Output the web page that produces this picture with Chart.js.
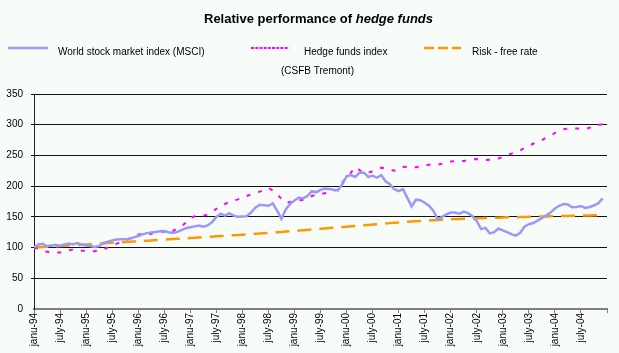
<!DOCTYPE html>
<html>
<head>
<meta charset="utf-8">
<script src="https://cdn.jsdelivr.net/npm/chart.js@4/dist/chart.umd.min.js"></script>
<style>
  html, body { margin: 0; padding: 0; background: #f8fcf9; }
  canvas { display: block; }
</style>
</head>
<body>
<canvas id="perf" width="619" height="353"></canvas>
<script>
// monthly index values, Jan 94 = 100
const seriesNames = ['World stock market index (MSCI)', 'Hedge funds index', 'Risk - free rate'];
const xTickLabels = ['janu-94','july-94','janu-95','july-95','janu-96','july-96','janu-97','july-97',
  'janu-98','july-98','janu-99','july-99','janu-00','july-00','janu-01','july-01','janu-02','july-02',
  'janu-03','july-03','janu-04','july-04',''];

const msci = [
  100, 105, 106, 102, 103.5, 104, 103, 105, 106.5, 105, 107.5, 105,
  103.5, 102.5, 101, 102.5, 107.5, 109.5, 111.5, 113, 113.5, 113.4, 114, 116.5,
  118.8, 121.5, 123.5, 124.5, 125.5, 126.5, 126.9, 125, 123.6, 125.5, 128.5, 131.5,
  133, 134.5, 136, 134, 136, 141, 150, 155, 152, 155.5, 152, 150,
  150.5, 151, 157, 165, 169.6, 169, 168, 172, 160, 147, 162, 171,
  176.6, 181.5, 180, 184, 192, 190, 194, 196, 195.5, 194, 193, 203,
  216, 218, 215, 222, 222, 215, 217, 214, 218, 208, 203, 195,
  192, 195, 181, 167, 178, 177, 173, 168, 160, 146, 150, 154,
  157, 157, 155, 158.5, 156, 151, 143, 130, 132, 123, 125, 131,
  128, 125, 122, 119.5, 124, 134, 138, 140, 144, 148, 152, 157,
  163.5, 168, 171, 170, 165.5, 166, 167.5, 164.5, 166, 168.5, 172, 180
];

const hedge = [
  100, 98, 95.5, 93, 92.5, 92, 92, 93.5, 95.5, 97, 96, 95,
  94.5, 94, 94, 95.5, 97.5, 100, 102.5, 106, 109, 112, 115, 118,
  121.5, 122, 120.5, 122.5, 125, 127, 125.5, 124, 127, 131, 134.5, 141,
  148, 151, 151, 152, 153.5, 158, 163, 168, 171, 174, 176.5, 178.5,
  181, 184, 186.5, 189, 191, 193.5, 197, 193, 187, 179, 173, 174,
  175.5, 177, 178, 181, 184, 186, 187, 188.5, 190, 192, 195, 206,
  214, 222, 231, 226, 221, 222, 224, 227, 230, 229, 227, 225,
  228.5, 231, 231.5, 231, 230.7, 232, 233.5, 235, 235, 235, 236.5, 238,
  240, 240.5, 240.5, 241, 242, 243.5, 244, 243.5, 242.5, 243, 244, 245,
  247.5, 250.5, 253, 255, 258, 262, 266, 269, 272, 275, 279, 282,
  286.5, 290.5, 292.5, 293.5, 294, 294, 293.5, 293, 295, 297.5, 299.5, 301
];

const riskFree = [
  100, 100.4, 100.8, 101.3, 101.7, 102.1, 102.5, 102.9, 103.3, 103.8, 104.2, 104.6,
  105, 105.5, 105.9, 106.4, 106.8, 107.3, 107.7, 108.2, 108.7, 109.1, 109.6, 110,
  110.5, 110.9, 111.3, 111.7, 112.2, 112.6, 113, 113.4, 113.8, 114.3, 114.7, 115.1,
  115.5, 116, 116.4, 116.9, 117.3, 117.8, 118.3, 118.7, 119.2, 119.6, 120.1, 120.5,
  121, 121.5, 122, 122.5, 123, 123.5, 124, 124.5, 125, 125.5, 126, 126.5,
  127, 127.6, 128.2, 128.8, 129.3, 129.9, 130.5, 131.1, 131.7, 132.3, 132.8, 133.4,
  134, 134.6, 135.2, 135.8, 136.3, 136.9, 137.5, 138.1, 138.7, 139.3, 139.8, 140.4,
  141, 141.5, 142, 142.5, 142.9, 143.3, 143.7, 144.1, 144.5, 144.9, 145.3, 145.7,
  146.1, 146.4, 146.7, 147, 147.3, 147.5, 147.7, 147.9, 148.1, 148.3, 148.5, 148.7,
  149, 149.2, 149.3, 149.5, 149.7, 149.9, 150, 150.2, 150.4, 150.5, 150.7, 150.9,
  151, 151.2, 151.4, 151.5, 151.7, 151.9, 152, 152.2, 152.4, 152.6, 152.8, 153
];

const FONT = '"Liberation Sans", Arial, sans-serif';
const colors = ['#9a9af5', '#ff00ff', '#ff9900'];

const toXY = arr => arr.map((v, i) => ({ x: i, y: v }));

// title + the odd three-column legend, drawn by hand
const header = {
  id: 'header',
  beforeDraw(chart) {
    const c = chart.ctx;
    c.save();
    c.fillStyle = '#f8fcf9';
    c.fillRect(0, 0, chart.width, chart.height);
    c.restore();
  },
  afterDraw(chart) {
    const c = chart.ctx;
    c.save();
    c.fillStyle = '#000';
    c.textBaseline = 'alphabetic';

    const a = 'Relative performance of ', b = 'hedge funds';
    c.font = 'bold 13px ' + FONT;
    const wa = c.measureText(a).width;
    c.font = 'italic bold 13px ' + FONT;
    const wb = c.measureText(b).width;
    let x = 318.5 - (wa + wb) / 2;
    c.font = 'bold 13px ' + FONT;
    c.fillText(a, x, 23);
    c.font = 'italic bold 13px ' + FONT;
    c.fillText(b, x + wa, 23);

    const samples = [[8, 48, [], 2.5], [251, 289, [3, 1.2], 2], [424, 461, [10, 4], 2.5]];
    const textX = [58, 304, 472];
    samples.forEach((s, i) => {
      c.beginPath();
      c.strokeStyle = colors[i];
      c.lineWidth = s[3];
      c.setLineDash(s[2]);
      c.moveTo(s[0], 48);
      c.lineTo(s[1], 48);
      c.stroke();
    });
    c.setLineDash([]);
    c.font = '10px ' + FONT;
    seriesNames.forEach((n, i) => c.fillText(n, textX[i], 54.5));
    c.fillText('(CSFB Tremont)', 281, 74);
    c.restore();
  }
};

new Chart(document.getElementById('perf'), {
  type: 'line',
  data: {
    datasets: [
      { label: seriesNames[0], data: toXY(msci), borderColor: colors[0], borderWidth: 2.5 },
      { label: seriesNames[1], data: toXY(hedge), borderColor: colors[1], borderWidth: 2, borderDash: [4, 8] },
      { label: seriesNames[2], data: toXY(riskFree), borderColor: colors[2], borderWidth: 2.5, borderDash: [14, 8] }
    ]
  },
  options: {
    responsive: false,
    animation: false,
    devicePixelRatio: 1,
    layout: { padding: { top: 94, right: 3, left: 0, bottom: 0 } },
    elements: { point: { radius: 0 }, line: { tension: 0 } },
    plugins: { legend: { display: false }, tooltip: { enabled: false } },
    scales: {
      x: {
        type: 'linear',
        min: 0,
        max: 132,
        afterFit: s => { s.height = 44; },
        grid: { drawOnChartArea: false, tickLength: 4, color: '#808080' },
        border: { color: '#808080', width: 2 },
        ticks: {
          stepSize: 6,
          autoSkip: false,
          minRotation: 90,
          maxRotation: 90,
          padding: 0,
          color: '#000',
          font: { family: FONT, size: 10 },
          callback: v => xTickLabels[v / 6] ?? ''
        }
      },
      y: {
        min: 0,
        max: 350,
        afterFit: s => { s.width = 34; },
        grid: {
          color: ctx => ctx.tick && ctx.tick.value === 0 ? 'rgba(0,0,0,0)' : '#111',
          tickLength: 3
        },
        border: { color: '#222', width: 1 },
        ticks: {
          stepSize: 50,
          padding: 8,
          color: '#000',
          font: { family: FONT, size: 10 }
        }
      }
    }
  },
  plugins: [header]
});
</script>
</body>
</html>
